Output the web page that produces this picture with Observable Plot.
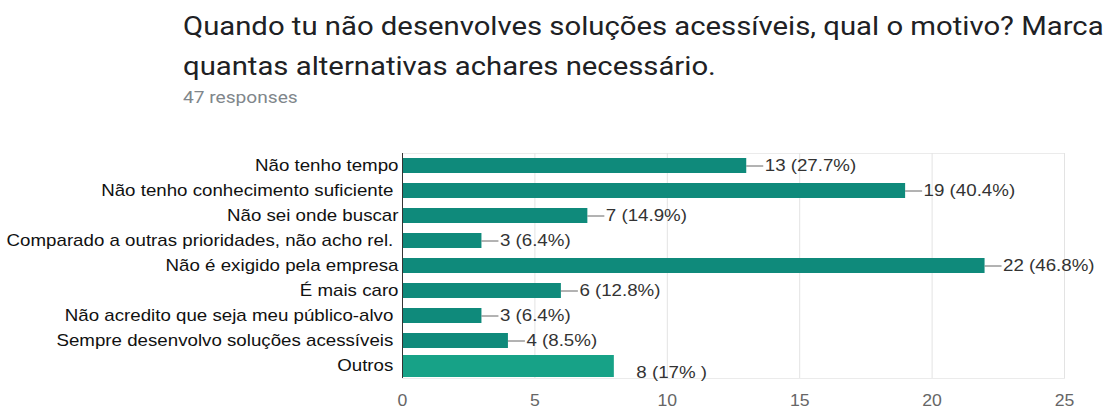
<!DOCTYPE html>
<html>
<head>
<meta charset="utf-8">
<script src="https://cdn.jsdelivr.net/npm/d3@7"></script>
<script src="https://cdn.jsdelivr.net/npm/@observablehq/plot@0.6"></script>
<style>
  html, body { margin: 0; padding: 0; background: #fff; }
  #header { position: relative; height: 125px; width: 1112px; font-family: Roboto, "Noto Sans", sans-serif; }
  #title, #subtitle { position: absolute; left: 183px; white-space: nowrap; transform-origin: left top; }
  #title { top: 6px; font-size: 25.5px; line-height: 40px; color: #202124; transform: scaleX(1.148); }
  #subtitle { top: 87px; font-size: 17px; line-height: 20px; color: #80868b; transform: scaleX(1.125); }
  #chart svg text { white-space: pre; }
</style>
</head>
<body>
<div id="header">
  <div id="title">Quando tu não desenvolves soluções acessíveis, qual o motivo? Marca<br>quantas alternativas achares necessário.</div>
  <div id="subtitle">47 responses</div>
</div>
<div id="chart"></div>
<script>
// Answer options as they appear in the form (some carry a trailing space)
const options = [
  "Não tenho tempo",
  "Não tenho conhecimento suficiente ",
  "Não sei onde buscar",
  "Comparado a outras prioridades, não acho rel. ",
  "Não é exigido pela empresa",
  "É mais caro",
  "Não acredito que seja meu público-alvo ",
  "Sempre desenvolvo soluções acessíveis ",
  "Outros "
];
const counts = [13, 19, 7, 3, 22, 6, 3, 4, 8];
const percentLabels = ["27.7%", "40.4%", "14.9%", "6.4%", "46.8%", "12.8%", "6.4%", "8.5%", "17% "];
const xTicks = [0, 5, 10, 15, 20, 25];

const rows = options.map((option, i) => ({
  option,
  count: counts[i],
  label: `${counts[i]} (${percentLabels[i]})`
}));
const lastOption = options[options.length - 1];
const main = rows.filter(d => d.option !== lastOption);
const last = rows.filter(d => d.option === lastOption);

const font = "'Liberation Sans', Arial, sans-serif";

const chart = Plot.plot({
  width: 1112,
  height: 285,
  marginLeft: 402,
  marginRight: 48,
  marginTop: 28,
  marginBottom: 32,
  style: { fontFamily: font, background: "#fff" },
  x: { domain: [0, 25], ticks: xTicks },
  y: { domain: options, padding: 0 },
  marks: [
    Plot.frame({ stroke: "#ebebeb" }),
    Plot.gridX(xTicks.slice(1), { stroke: "#e3e3e3", strokeOpacity: 1 }),
    Plot.barX(main, { x: "count", y: "option", fill: "#0f8a7b", insetTop: 5, insetBottom: 5 }),
    Plot.barX(last, { x: "count", y: "option", fill: "#17a287", insetTop: 2, insetBottom: 1 }),
    Plot.ruleY(main, { y: "option", x1: "count", x2: "count", insetRight: -17, stroke: "#666", strokeWidth: 1 }),
    Plot.text(main, { x: "count", y: "option", text: "label", dx: 18, textAnchor: "start", fill: "#333", fontSize: 17 }),
    Plot.text(last, { x: "count", y: "option", text: "label", dx: 22, dy: 7, textAnchor: "start", fill: "#333", fontSize: 17 }),
    Plot.ruleX([0], { stroke: "#333", strokeWidth: 1 }),
    Plot.axisY({ tickSize: 0, tickPadding: 4, fontSize: 17, fill: "#111", label: null }),
    Plot.axisX({ ticks: xTicks, tickSize: 0, tickPadding: 16, fontSize: 16, fill: "#666", label: null })
  ]
});
document.getElementById("chart").append(chart);

// Widen the chart's lettering slightly so it reads like the form's own rendering
chart.querySelectorAll("text").forEach(t => {
  const len = t.getComputedTextLength();
  if (len > 0) {
    t.setAttribute("textLength", (len * 1.1).toFixed(1));
    t.setAttribute("lengthAdjust", "spacingAndGlyphs");
  }
});
</script>
</body>
</html>
